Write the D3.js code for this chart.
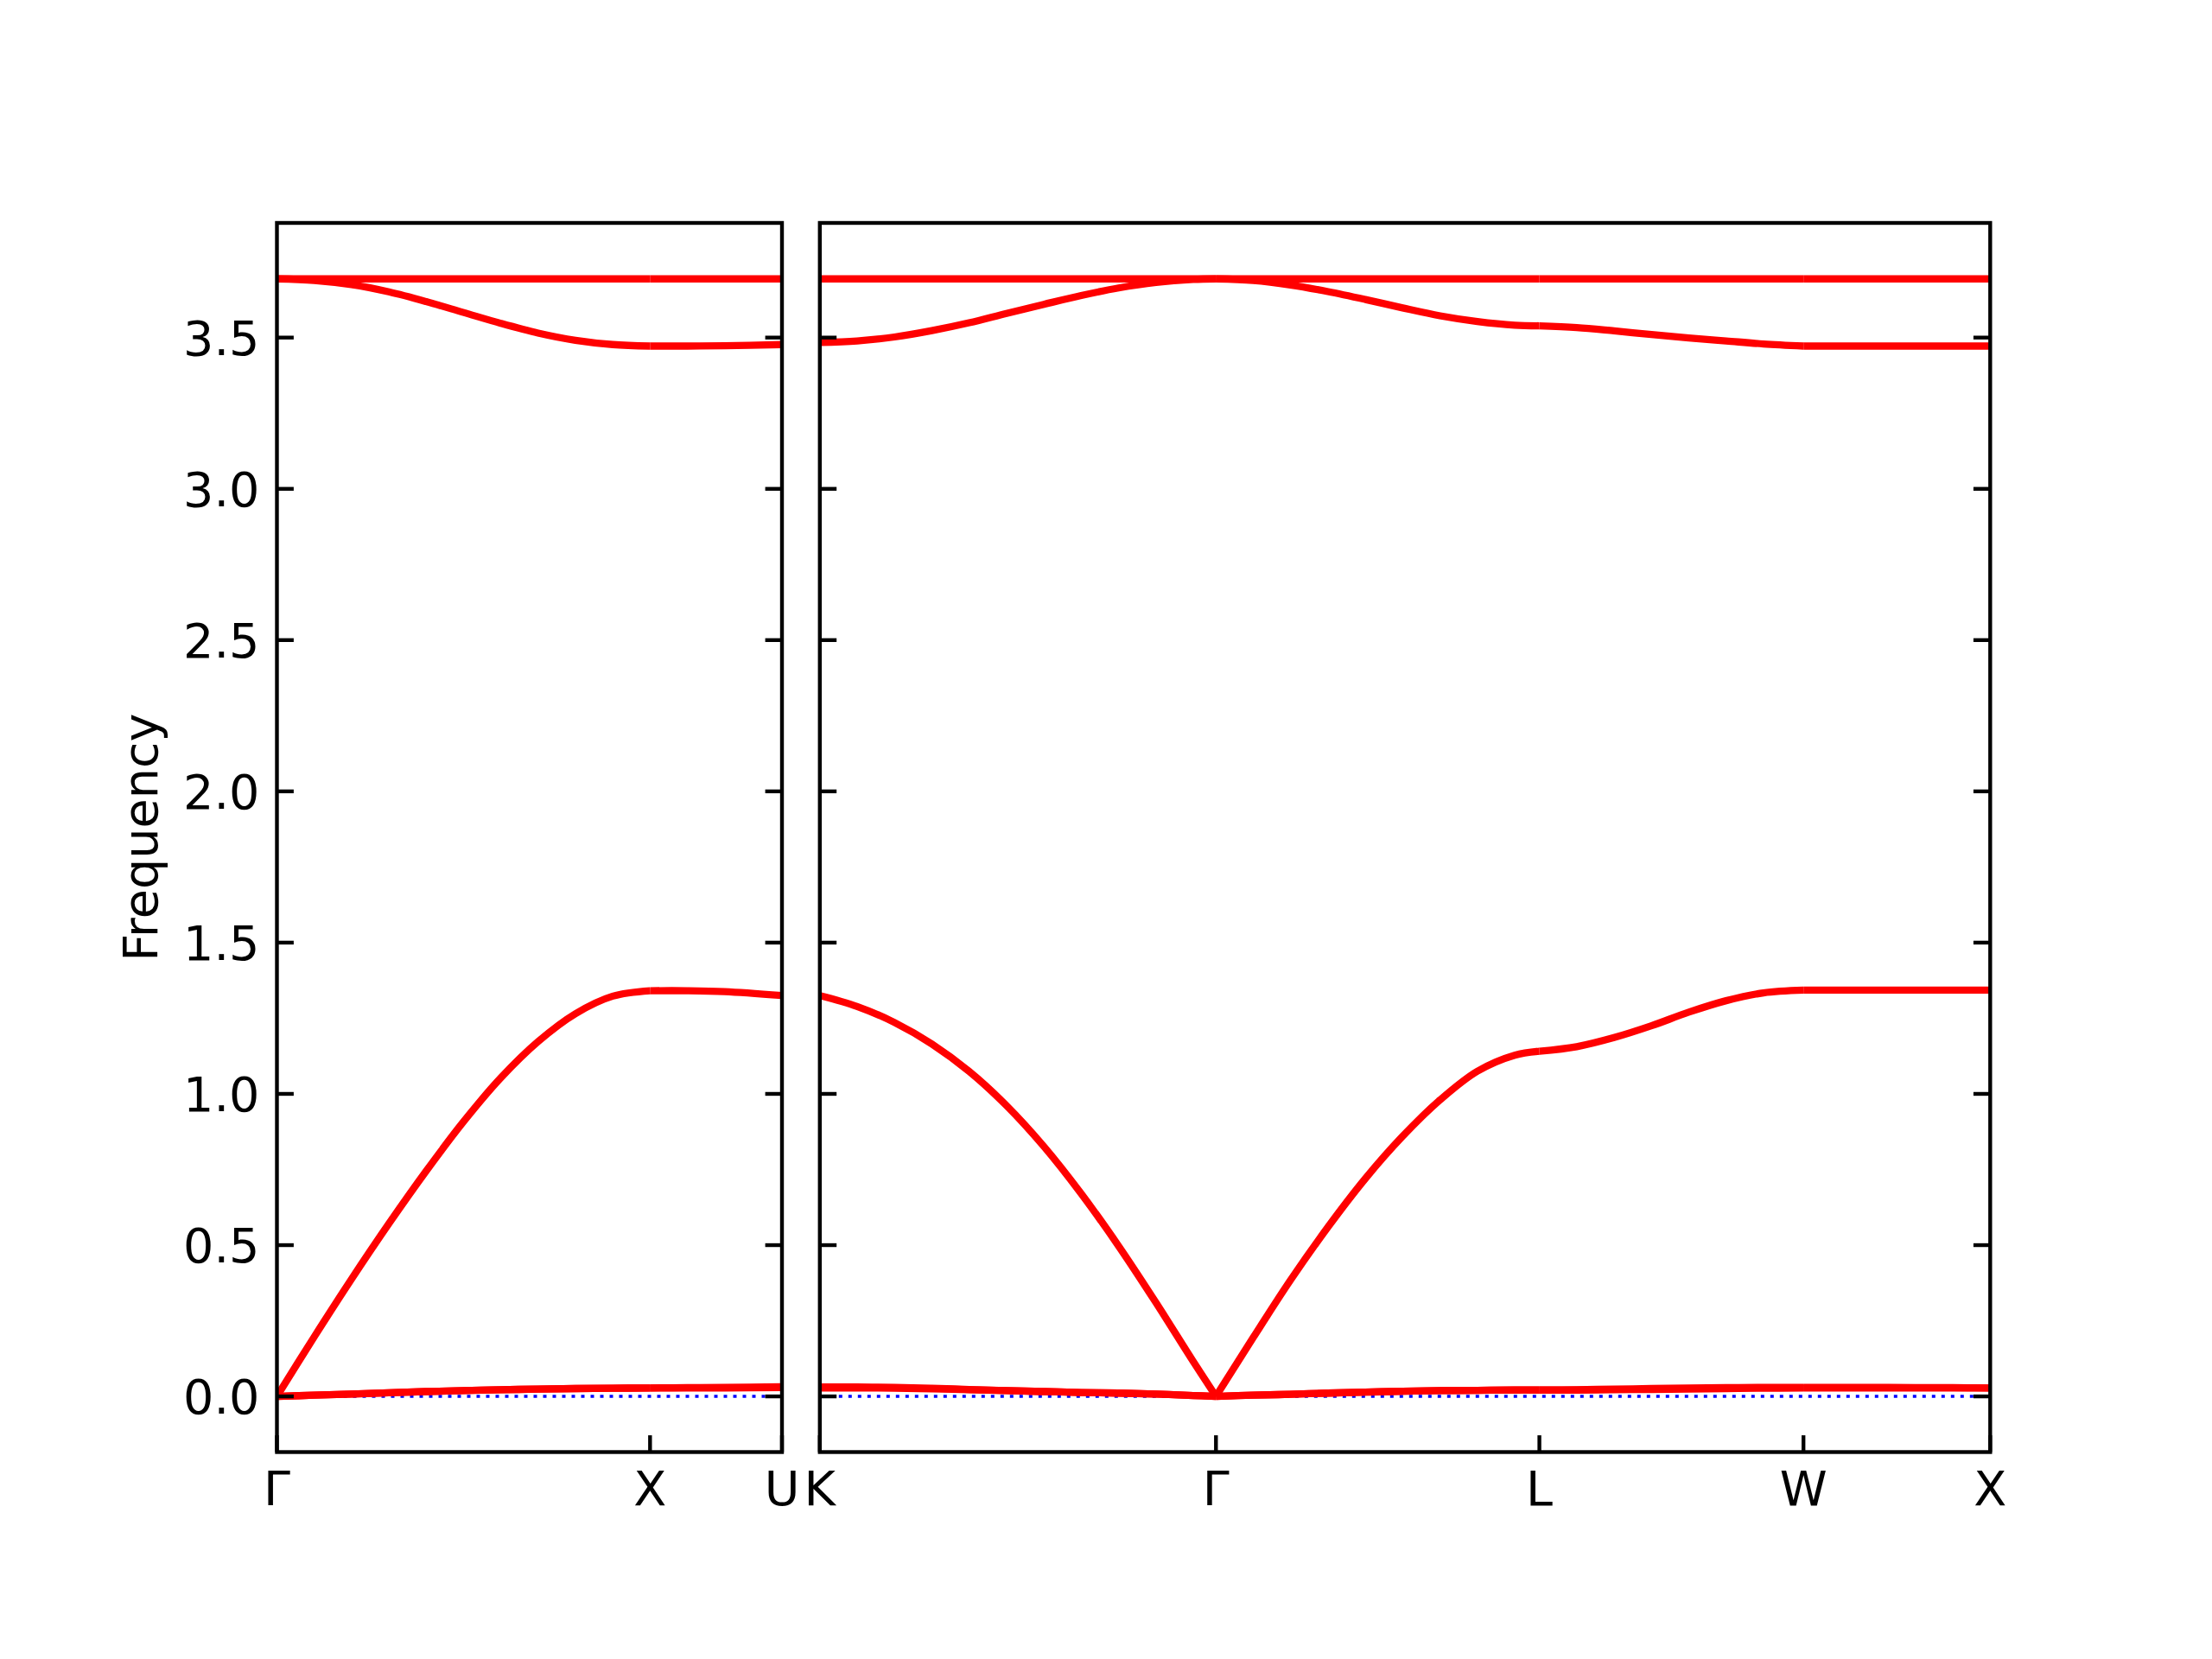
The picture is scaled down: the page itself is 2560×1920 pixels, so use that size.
<!DOCTYPE html>
<meta charset="utf-8">
<title>Phonon band structure</title>
<style>
    body {
        margin: 0;
        background: #fff;
    }

    text {
        font-family: "DejaVu Sans", sans-serif;
        fill: #000;
    }
</style>
<body>
<script src="https://cdnjs.cloudflare.com/ajax/libs/d3/7.8.5/d3.min.js"></script>
<script>
    // path distances (2pi/a units) of the high-symmetry points
    var leftLabels = ["Γ", "X", "U"];
    var leftTicks = [0, 1.0, 1.3536];
    var rightLabels = ["K", "Γ", "L", "W", "X"];
    var rightTicks = [0, 1.0607, 1.9267, 2.6338, 3.1338];
    var yTicks = [0, 0.5, 1.0, 1.5, 2.0, 2.5, 3.0, 3.5];

    // left panel: Γ - X - U
    var leftQ = [0, 0.1, 0.2, 0.3, 0.4, 0.5, 0.6, 0.7, 0.8, 0.9, 1.0, 1.1, 1.2, 1.3536];
    var leftOpt1 = [3.694, 3.694, 3.694, 3.694, 3.694, 3.694, 3.694, 3.694, 3.694, 3.694, 3.694, 3.694, 3.694, 3.694];
    var leftOpt2 = [3.694, 3.689, 3.675, 3.651, 3.619, 3.583, 3.547, 3.515, 3.491, 3.477, 3.472, 3.472, 3.473, 3.477];
    var leftLA = [0, 0.197, 0.388, 0.571, 0.745, 0.908, 1.053, 1.173, 1.265, 1.323, 1.341, 1.341, 1.338, 1.325];
    var leftTA1 = [0, 0.004, 0.008, 0.012, 0.016, 0.019, 0.022, 0.024, 0.026, 0.027, 0.028, 0.029, 0.030, 0.032];
    var leftTA2 = [0, 0.004, 0.008, 0.012, 0.016, 0.019, 0.022, 0.024, 0.026, 0.027, 0.028, 0.028, 0.028, 0.029];

    // right panel: K - Γ - L - W - X
    var rightQ = [0, 0.1, 0.2, 0.3, 0.4, 0.5, 0.6, 0.7, 0.8, 0.9, 1.0, 1.0607,
        1.1607, 1.2607, 1.3607, 1.4607, 1.5607, 1.6607, 1.7607, 1.8607, 1.9267,
        2.0267, 2.1267, 2.2267, 2.3267, 2.4267, 2.5267, 2.6338,
        2.7338, 2.8338, 2.9338, 3.0338, 3.1338];
    var rightOpt1 = rightQ.map(function () { return 3.694; });
    var rightOpt2 = [3.484, 3.489, 3.502, 3.523, 3.549, 3.580, 3.610, 3.639, 3.664, 3.682, 3.692, 3.694,
        3.689, 3.674, 3.652, 3.626, 3.598, 3.572, 3.553, 3.541, 3.539,
        3.533, 3.522, 3.510, 3.499, 3.489, 3.479, 3.472,
        3.472, 3.472, 3.472, 3.472, 3.472];
    var rightLA = [1.325, 1.289, 1.236, 1.165, 1.074, 0.961, 0.826, 0.670, 0.497, 0.310, 0.115, 0,
        0.195, 0.385, 0.560, 0.720, 0.860, 0.980, 1.075, 1.128, 1.141,
        1.156, 1.186, 1.225, 1.270, 1.308, 1.334, 1.343,
        1.343, 1.343, 1.343, 1.343, 1.343];
    var rightTA1 = [0.031, 0.031, 0.030, 0.027, 0.023, 0.019, 0.016, 0.013, 0.011, 0.008, 0.003, 0,
        0.004, 0.007, 0.011, 0.014, 0.017, 0.019, 0.020, 0.021, 0.021,
        0.022, 0.024, 0.026, 0.028, 0.029, 0.030, 0.030,
        0.030, 0.030, 0.029, 0.029, 0.028];
    var rightTA2 = [0.028, 0.028, 0.027, 0.025, 0.022, 0.019, 0.016, 0.013, 0.011, 0.008, 0.003, 0,
        0.004, 0.007, 0.011, 0.014, 0.017, 0.019, 0.020, 0.021, 0.021,
        0.021, 0.022, 0.023, 0.024, 0.026, 0.027, 0.028,
        0.028, 0.028, 0.028, 0.028, 0.028];

    var W = 2560, H = 1920;
    var plotTop = 258, plotBottom = 1680.5; // "top" clashes with window.top
    var lw = 4.4; // spine / tick width
    var tickLen = 19.4;
    var fontSize = 55.6;

    var svg = d3.select("body").append("svg")
        .attr("width", W)
        .attr("height", H);

    var y = d3.scaleLinear().domain([-0.184, 3.879]).range([plotBottom, plotTop]);

    var panels = [
        {x0: 320.5, x1: 905, q: leftQ, ticks: leftTicks, labels: leftLabels, yLabels: true,
            bands: [leftTA1, leftTA2, leftLA, leftOpt2, leftOpt1]},
        {x0: 948.8, x1: 2303.3, q: rightQ, ticks: rightTicks, labels: rightLabels, yLabels: false,
            bands: [rightTA1, rightTA2, rightLA, rightOpt2, rightOpt1]}
    ];

    panels.forEach(function (p, pi) {
        var x = d3.scaleLinear().domain([p.ticks[0], p.ticks[p.ticks.length - 1]]).range([p.x0, p.x1]);
        var g = svg.append("g");

        g.append("clipPath").attr("id", "clip" + pi)
            .append("rect")
            .attr("x", p.x0).attr("y", plotTop)
            .attr("width", p.x1 - p.x0).attr("height", plotBottom - plotTop);

        var plot = g.append("g").attr("clip-path", "url(#clip" + pi + ")");

        // zero line
        plot.append("line")
            .attr("x1", p.x0).attr("x2", p.x1)
            .attr("y1", y(0)).attr("y2", y(0))
            .attr("stroke", "#0000ff")
            .attr("stroke-width", 3.5)
            .attr("stroke-dasharray", "4 7");

        var line = d3.line()
            .x(function (d) { return x(d[0]); })
            .y(function (d) { return y(d[1]); })
            .curve(d3.curveCatmullRom.alpha(0.5));

        // one path per band per segment so kinks at the special points stay sharp
        p.bands.forEach(function (band) {
            for (var s = 0; s < p.ticks.length - 1; s++) {
                var a = p.ticks[s] - 1e-6, b = p.ticks[s + 1] + 1e-6;
                var pts = [];
                p.q.forEach(function (q, i) {
                    if (q >= a && q <= b) pts.push([q, band[i]]);
                });
                plot.append("path")
                    .attr("d", line(pts))
                    .attr("fill", "none")
                    .attr("stroke", "#ff0000")
                    .attr("stroke-width", 8.3)
                    .attr("stroke-linejoin", "round");
            }
        });

        // y ticks, inward on both sides
        yTicks.forEach(function (t) {
            g.append("line")
                .attr("x1", p.x0).attr("x2", p.x0 + tickLen)
                .attr("y1", y(t)).attr("y2", y(t))
                .attr("stroke", "#000").attr("stroke-width", lw);
            g.append("line")
                .attr("x1", p.x1).attr("x2", p.x1 - tickLen)
                .attr("y1", y(t)).attr("y2", y(t))
                .attr("stroke", "#000").attr("stroke-width", lw);
            if (p.yLabels) {
                g.append("text")
                    .attr("x", p.x0 - 20)
                    .attr("y", y(t) + 20)
                    .attr("text-anchor", "end")
                    .attr("font-size", fontSize)
                    .text(d3.format(".1f")(t));
            }
        });

        // x ticks at the special points
        p.ticks.forEach(function (t, i) {
            g.append("line")
                .attr("x1", x(t)).attr("x2", x(t))
                .attr("y1", plotBottom).attr("y2", plotBottom - tickLen)
                .attr("stroke", "#000").attr("stroke-width", lw);
            g.append("text")
                .attr("x", x(t))
                .attr("y", 1742)
                .attr("text-anchor", "middle")
                .attr("font-size", fontSize)
                .text(p.labels[i]);
        });

        // frame
        g.append("rect")
            .attr("x", p.x0).attr("y", plotTop)
            .attr("width", p.x1 - p.x0).attr("height", plotBottom - plotTop)
            .attr("fill", "none")
            .attr("stroke", "#000")
            .attr("stroke-width", lw);
    });

    svg.append("text")
        .attr("transform", "translate(182," + (plotTop + plotBottom) / 2 + ") rotate(-90)")
        .attr("text-anchor", "middle")
        .attr("font-size", fontSize)
        .text("Frequency");
</script>
